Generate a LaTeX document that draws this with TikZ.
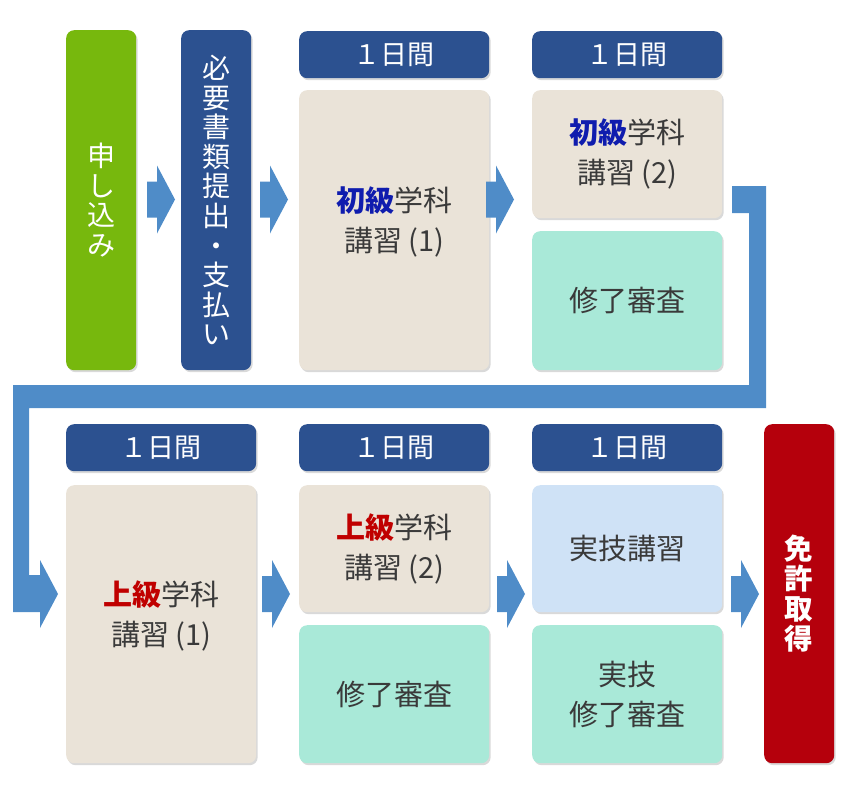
\documentclass[tikz,border=0pt]{standalone}
\usepackage{fontspec}
\setmainfont{Noto Sans CJK JP}
\usetikzlibrary{shadows}
\definecolor{cgreen}{HTML}{77B80D}
\definecolor{cnavy}{HTML}{2C5190}
\definecolor{carrow}{HTML}{4F8CC8}
\definecolor{cbeige}{HTML}{EAE3D8}
\definecolor{cmint}{HTML}{A9E9D8}
\definecolor{clblue}{HTML}{CFE2F6}
\definecolor{cred}{HTML}{B5000C}
\definecolor{ctext}{HTML}{3A3A3A}
\definecolor{cemblue}{HTML}{0F1CAE}
\definecolor{cemred}{HTML}{C00000}
\newcommand{\blockarrow}[2]{\fill[carrow, shift={(#1,#2)}] (0,-18) -- (10,-18) -- (10,-34) -- (28,0) -- (10,34) -- (10,18) -- (0,18) -- cycle;}
\begin{document}
\begin{tikzpicture}[x=1pt,y=-1pt,
  box/.style={rounded corners=8pt, inner sep=0pt, anchor=north west, draw=none,
    drop shadow={shadow xshift=1.5pt, shadow yshift=-2pt, opacity=0.15, fill=black}},
  hdr/.style={box, fill=cnavy, minimum width=190pt, minimum height=47pt, text=white,
    font=\fontsize{27}{30}\selectfont},
  vert/.style={box, minimum width=70pt, minimum height=340pt, text=white, align=center,
    font=\fontsize{28}{29.6}\selectfont},
  body/.style={box, minimum width=190pt, text=ctext, align=center,
    font=\fontsize{29}{40}\selectfont},
  btext/.style={text=ctext, align=center, font=\fontsize{29}{40}\selectfont, inner sep=0pt}]
\useasboundingbox (0,0) rectangle (850,800);
% top row
\node[vert, fill=cgreen] (apply) at (66,30) {申\\し\\込\\み};
\node[vert, fill=cnavy] (docs) at (181,30) {必\\要\\書\\類\\提\\出\\・\\支\\払\\い};
\node[hdr] (h1) at (299,31) {１日間};
\node[body, fill=cbeige, minimum height=280pt] (k1) at (299,90) {};
\node[btext] at ([yshift=8pt]k1.center) {\textbf{\color{cemblue}初級}学科\\講習 (1)};
\node[hdr] (h2) at (532,31) {１日間};
\node[body, fill=cbeige, minimum height=128pt] (k2) at (532,90) {\textbf{\color{cemblue}初級}学科\\講習 (2)};
\node[body, fill=cmint, minimum height=139pt] (s1) at (532,231) {修了審査};
% bottom row
\node[hdr] (h3) at (66,424) {１日間};
\node[body, fill=cbeige, minimum height=278pt] (j1) at (66,485) {};
\node[btext] at ([yshift=8pt]j1.center) {\textbf{\color{cemred}上級}学科\\講習 (1)};
\node[hdr] (h4) at (299,424) {１日間};
\node[body, fill=cbeige, minimum height=127pt] (j2) at (299,485) {\textbf{\color{cemred}上級}学科\\講習 (2)};
\node[body, fill=cmint, minimum height=138pt] (s2) at (299,625) {修了審査};
\node[hdr] (h5) at (532,424) {１日間};
\node[body, fill=clblue, minimum height=127pt] (p1) at (532,485) {実技講習};
\node[body, fill=cmint, minimum height=138pt] (s3) at (532,625) {実技\\修了審査};
\node[vert, fill=cred, minimum height=339pt, font=\fontsize{28.5}{30}\selectfont\bfseries] (lic) at (764,424) {免\\許\\取\\得};
% arrows
\blockarrow{147}{199.5}
\blockarrow{260}{199.5}
\blockarrow{486}{199.5}
\blockarrow{262}{594}
\blockarrow{497}{594}
\blockarrow{731}{594}
% return connector
\fill[carrow] (732,186) -- (766,186) -- (766,408) -- (29,408) -- (29,575) -- (40,575) -- (40,560) -- (58,594) -- (40,628) -- (40,612) -- (13,612) -- (13,385) -- (749,385) -- (749,213) -- (732,213) -- cycle;
\end{tikzpicture}
\end{document}
